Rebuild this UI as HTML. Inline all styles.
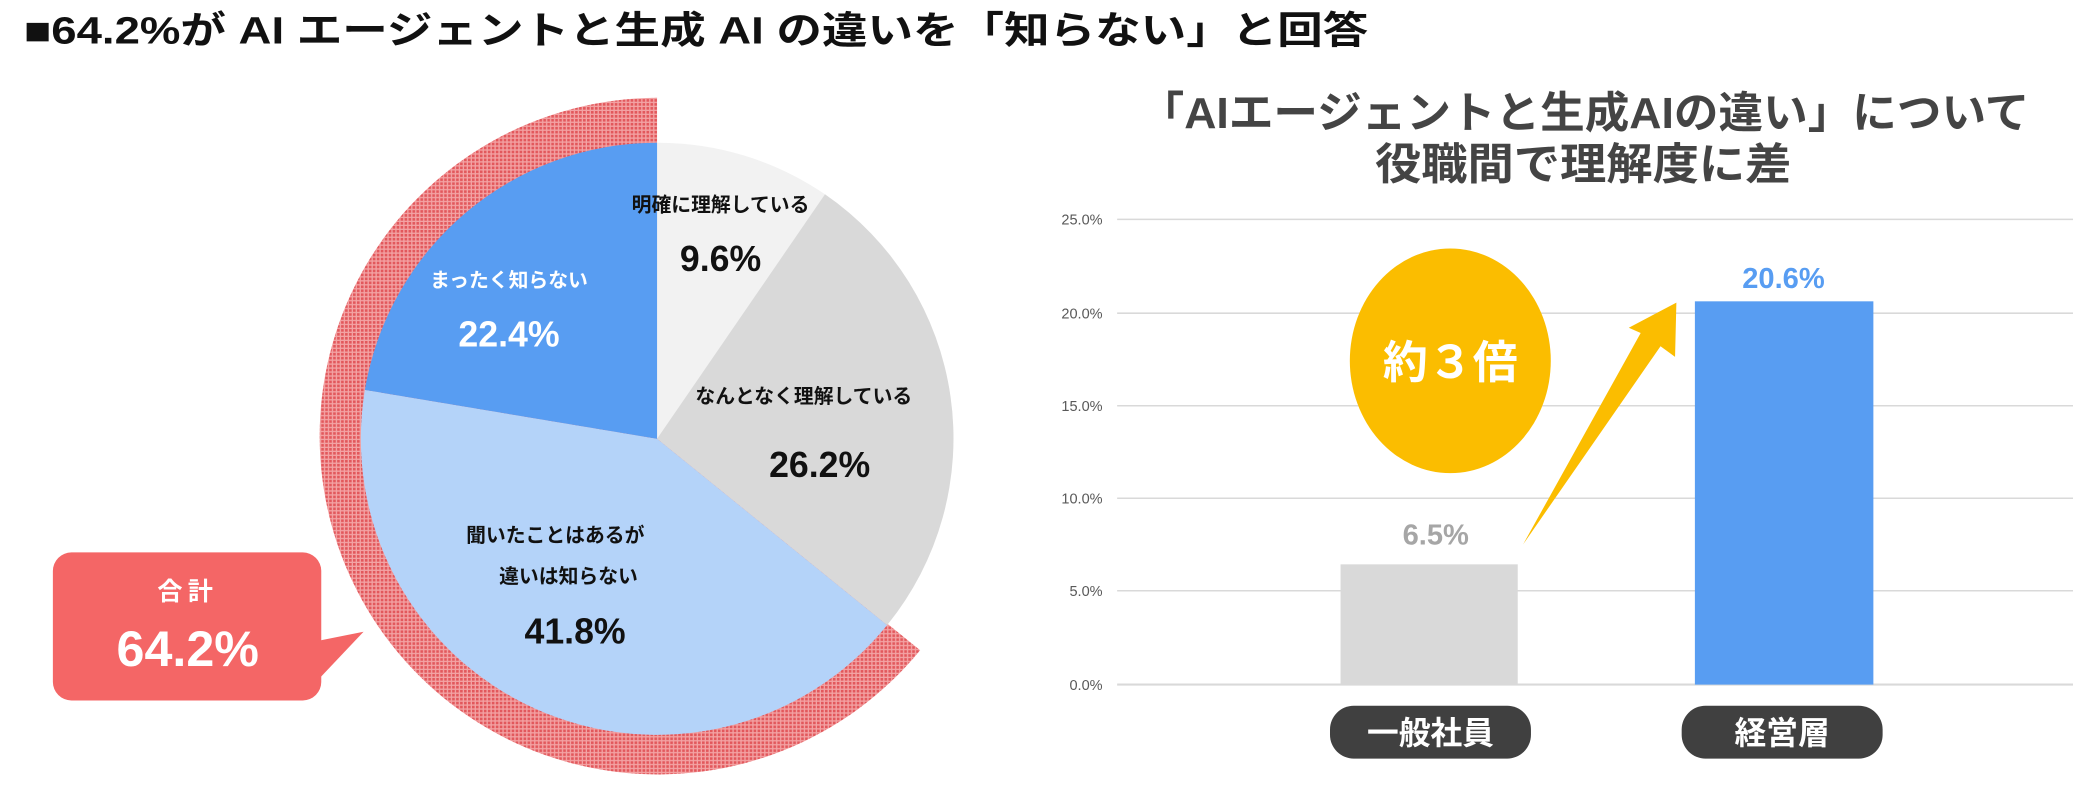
<!DOCTYPE html>
<html><head><meta charset="utf-8"><style>
html,body{margin:0;padding:0;background:#fff;}
svg{display:block;}
text{font-family:"Liberation Sans","Noto Sans CJK JP",sans-serif;font-weight:bold;}
</style></head><body>
<svg width="2073" height="789" viewBox="0 0 1568 597" preserveAspectRatio="none" xmlns="http://www.w3.org/2000/svg">
<defs>
<pattern id="hat" width="3" height="3" patternUnits="userSpaceOnUse">
<rect width="3" height="3" fill="#f3a3a4"/>
<rect width="2" height="2" fill="#e2585c"/>
</pattern>
</defs>
<text x="18" y="33" font-size="29" fill="#111" textLength="1017" lengthAdjust="spacingAndGlyphs">■64.2%が AI エージェントと生成 AI の違いを「知らない」と回答</text>

<path d="M497,331 L696,492 A256,256 0 1 1 497,74 Z" fill="url(#hat)"/>
<path d="M497,332 L497,108 A224,224 0 0 1 624,147 Z" fill="#f2f2f2"/>
<path d="M497,332 L624,147 A224,224 0 0 1 671,473 Z" fill="#d9d9d9"/>
<path d="M497,332 L671,473 A224,224 0 0 1 276,295 Z" fill="#b4d3f9"/>
<path d="M497,332 L276,295 A224,224 0 0 1 497,108 Z" fill="#589df2"/>

<g text-anchor="middle">
<text x="545" y="160" font-size="15" fill="#111">明確に理解している</text>
<text x="545" y="205" font-size="27" fill="#111">9.6%</text>
<text x="385" y="217" font-size="15" fill="#fff">まったく知らない</text>
<text x="385" y="262" font-size="27" fill="#fff">22.4%</text>
<text x="608" y="305" font-size="15" fill="#111">なんとなく理解している</text>
<text x="620" y="361" font-size="27" fill="#111">26.2%</text>
<text x="420" y="410" font-size="15" fill="#111">聞いたことはあるが</text>
<text x="430" y="441" font-size="15" fill="#111">違いは知らない</text>
<text x="435" y="487" font-size="27" fill="#111">41.8%</text>
</g>

<path d="M240,485 L275,478 L240,515 Z" fill="#f46666"/>
<rect x="40" y="418" width="203" height="112" rx="14" fill="#f46666"/>
<text x="142" y="454" font-size="19" fill="#fff" text-anchor="middle" letter-spacing="4">合計</text>
<text x="142" y="504" font-size="38" fill="#fff" text-anchor="middle">64.2%</text>

<text x="862" y="97" font-size="33" fill="#444" textLength="673" lengthAdjust="spacingAndGlyphs">「AIエージェントと生成AIの違い」について</text>
<text x="1040" y="136" font-size="33" fill="#444" textLength="315" lengthAdjust="spacingAndGlyphs">役職間で理解度に差</text>

<g stroke="#d9d9d9" stroke-width="1.2">
<line x1="845" y1="166" x2="1568" y2="166"/>
<line x1="845" y1="237" x2="1568" y2="237"/>
<line x1="845" y1="307" x2="1568" y2="307"/>
<line x1="845" y1="377" x2="1568" y2="377"/>
<line x1="845" y1="447" x2="1568" y2="447"/>
<line x1="845" y1="518" x2="1568" y2="518" stroke-width="1.6"/>
</g>
<g font-size="11" fill="#595959" text-anchor="end">
<text x="834" y="170" style="font-weight:normal">25.0%</text>
<text x="834" y="241" style="font-weight:normal">20.0%</text>
<text x="834" y="311" style="font-weight:normal">15.0%</text>
<text x="834" y="381" style="font-weight:normal">10.0%</text>
<text x="834" y="451" style="font-weight:normal">5.0%</text>
<text x="834" y="522" style="font-weight:normal">0.0%</text>
</g>

<rect x="1014" y="427" width="134" height="91" fill="#d9d9d9"/>
<rect x="1282" y="228" width="135" height="290" fill="#589df2"/>
<text x="1086" y="412" font-size="22" fill="#a6a6a6" text-anchor="middle">6.5%</text>
<text x="1349" y="218" font-size="22" fill="#589df2" text-anchor="middle">20.6%</text>

<ellipse cx="1097" cy="273" rx="76" ry="85" fill="#fbbd00"/>
<text x="1097" y="286" font-size="34" fill="#fff" text-anchor="middle">約３倍</text>
<polygon points="1152,412 1241,252 1232,248 1268,229 1267,270 1256,262" fill="#fbbd00"/>

<rect x="1006" y="534" width="152" height="40" rx="18" fill="#404040"/>
<rect x="1272" y="534" width="152" height="40" rx="18" fill="#404040"/>
<text x="1082" y="563" font-size="24" fill="#fff" text-anchor="middle">一般社員</text>
<text x="1348" y="563" font-size="24" fill="#fff" text-anchor="middle">経営層</text>
</svg>
</body></html>
